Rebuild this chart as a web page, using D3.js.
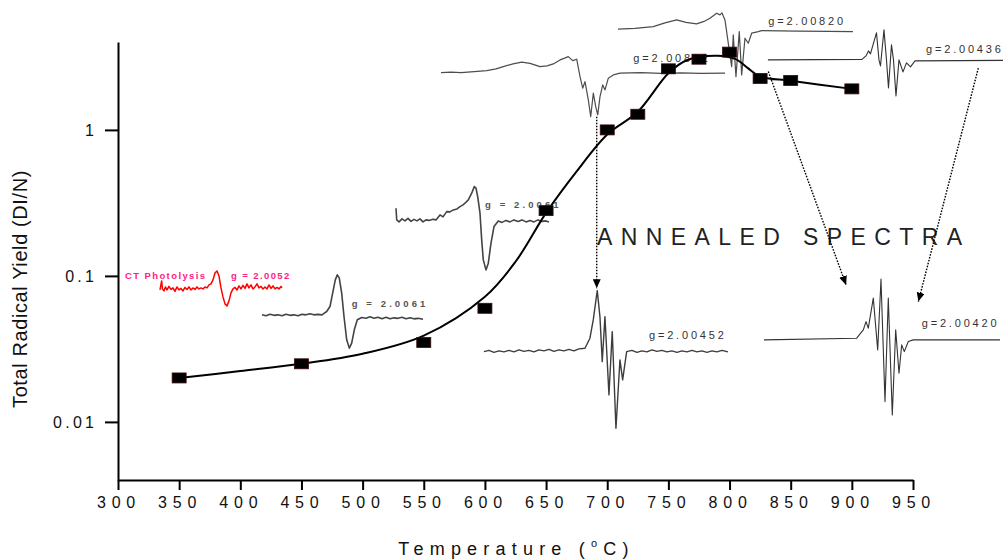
<!DOCTYPE html>
<html>
<head>
<meta charset="utf-8">
<script src="https://cdn.jsdelivr.net/npm/d3@7"></script>
<style>
body { margin: 0; background: #fff; }
svg { display: block; font-family: "Liberation Sans", Arial, sans-serif; }
</style>
</head>
<body>
<svg id="chart" width="1003" height="560"></svg>
<script>
// measured radical yields (squares)
const pointTemps = [350, 450, 550, 600, 650, 700, 725, 750, 775, 800, 825, 850, 900];
const pointYields = [0.020, 0.025, 0.035, 0.060, 0.28, 1.0, 1.28, 2.62, 3.05, 3.41, 2.25, 2.18, 1.91];

// smooth fitted curve
const curveTemps = [350, 400, 450, 500, 550, 600, 625, 650, 675, 700, 725, 750, 765, 790, 805, 815, 825, 850, 900];
const curveYields = [0.020, 0.0223, 0.025, 0.0293, 0.039, 0.072, 0.125, 0.27, 0.52, 0.93, 1.33, 2.44, 3.0, 3.22, 3.05, 2.65, 2.32, 2.17, 1.91];

const xTickValues = [300, 350, 400, 450, 500, 550, 600, 650, 700, 750, 800, 850, 900, 950];
const xMinorValues = [325, 375, 425, 475, 525, 575, 625, 675, 725, 775, 825, 875, 925];
const yTickValues = [0.01, 0.1, 1];
const yTickLabels = ["0.01", "0.1", "1"];

// EPR spectra insets: [field, signal] in arbitrary units
const specCT = [[0,20],[1.7,29],[2.5,21],[4,19],[5.5,23],[7,20],[9,23.5],[11,20.5],[13,22],[15,18.5],[17,23],[19,20],[21,21.5],[23,19],[25,22.5],[27,20.5],[29,23],[31,20],[33,22],[35,20.5],[37,23],[39,21],[41,22],[43,21],[45,23],[47,22],[49,25],[51,26],[53,30],[55,37],[57,39],[59,34],[61,22],[63,13],[65,6],[67,4],[69,9],[71,17],[73,21],[75,22.5],[77,20],[79,24],[81,21],[83,24.5],[85,21.5],[87,26],[89,22],[91,25],[93,21],[95,23],[97,26],[99,22],[101,23.5],[103,21],[105,23],[107,21],[109,25],[111,21.5],[113,24],[115,21],[117,22.5],[119,21],[121,23.5],[122,22]];
const spec450 = [[0,37],[4,36],[8,37.5],[12,36.5],[16,37],[20,36],[24,37.5],[28,36.5],[32,37],[36,36],[40,37.5],[44,37],[48,38],[52,37],[56,37.5],[60,37],[62,38.5],[64.7,40.3],[68,45.3],[71.3,62],[73.3,72],[75.3,77],[77.3,73.7],[79.7,58.7],[82,35.3],[84.7,12],[87.3,3.7],[89.7,8.7],[92.3,22],[95.3,32],[99.7,34.3],[104,33.5],[108,35],[112,33.5],[116,34.5],[120,33],[124,34.5],[128,33],[132,34],[136,33.5],[140,34.5],[144,33],[148,34],[152,33],[156,33.5],[161,32.5]];
const spec600 = [[0,66.7],[0.7,55],[3,53],[6,56],[9,54],[12,56.5],[15,53.5],[18,55.5],[21,54],[24,56],[27,53],[30,55],[33,54.5],[37,55.7],[40,55],[44,60],[47,58],[50.7,63.3],[54,63],[57.3,65],[61,66],[64,68.3],[67,70],[69,71.7],[72.3,75],[75.7,81.7],[78.3,88.3],[80,86.7],[81.7,78.3],[84,61.7],[85.7,35],[87.3,15],[90,5],[92.3,11.7],[95,31.7],[98,48.3],[102.3,54],[106,52.5],[110,54.5],[114,53],[118,55],[122,53.5],[126,55],[130,53],[134,54.5],[138,53],[142,55],[146,53.5],[150,54],[153,53]];
const spec700top = [[0,47.3],[10,47.8],[20,47.2],[30,48],[45.7,49.3],[55,51],[62.3,53.3],[72,56],[80.7,57.7],[89,56.5],[99,53.3],[106,54],[112.3,56],[119,60],[123,61.5],[127.3,63.3],[131.7,59.3],[135.7,60.7],[139,43.3],[141.7,31.7],[144,38.3],[147.3,20],[149.7,3.3],[152.3,26.7],[154.7,13.3],[156.7,5],[159,23.3],[161.7,35],[164,30],[167.3,41.7],[172.3,45],[179,46.7],[200,47.2],[220,46.5],[240,47],[260,46.5],[284,46.7]];
const spec800top = [[0,50.7],[17,51.5],[35.3,53.3],[47,57],[58.7,60],[68,57.5],[78.7,56],[86,58.5],[92,61.7],[98.7,66.7],[102,65],[104,67],[107,60],[110.3,36.7],[113.7,13.3],[115.3,45],[118,3.3],[121.3,48.3],[123.7,5],[127,41.7],[130.3,36.7],[133.7,46.7],[140.3,48.3],[143.7,49.3],[180,48.8],[210,48.5],[235,48.3]];
const spec850top = [[0,40],[94,40.5],[98,44],[100.5,49],[102.5,46],[105,55],[108.5,67],[111,40],[112.5,34],[116,70],[118.5,40],[120.5,12],[123.5,55],[125.5,40],[128,4],[131,40],[135,28],[138.5,37],[142.5,33],[147,39],[235,39.5]];
const spec700ann = [[0,80.3],[5,81.5],[10,79.5],[15,81],[20,80],[25,81.5],[30,80],[35,82],[40,80.5],[45,81.5],[50,80],[55,82],[60,81],[65,82.5],[70,80.5],[75,82],[80,81],[85,82.5],[90,81],[95,83],[101,83.7],[106,93.7],[109.3,112],[113.3,141.3],[116,115.3],[118.3,70.3],[121,115.3],[125,37],[128.3,100.3],[132,3.7],[136,72],[138.7,52],[142.7,80.3],[148,81.5],[153,79.5],[158,81],[163,80],[168,82],[173,80.5],[178,81.5],[183,80],[188,81],[193,79.5],[198,81],[203,80],[208,81.5],[213,80],[218,81],[223,79.5],[228,81],[233,80],[238,81.5],[244,80]];
const spec850ann = [[0,80],[92.7,81.7],[99.3,90],[102,98.3],[104.3,91.7],[109.3,121.7],[113.7,70],[117,140.7],[121,18.3],[124.3,121.7],[128.3,5],[131.7,90],[135,46.7],[137.7,75],[140.3,68.3],[144.3,78.3],[149.3,80],[236,80]];

const spectra = [specCT, spec450, spec600, spec700top, spec800top, spec850top, spec700ann, spec850ann];
// where each inset sits, in chart units (temperature, yield)
const frameT0 = [334.3, 417.7, 527.3, 564.1, 708.8, 831.4, 599.2, 828.2];
const frameT1 = [434.1, 549.4, 653.2, 796.3, 900.9, 1023.6, 798.7, 1021.1];
const frameLo = [0.0585, 0.0302, 0.1016, 1.171, 2.200, 1.606, 0.00854, 0.01032];
const frameHi = [0.1189, 0.1100, 0.4545, 3.531, 6.848, 5.239, 0.0868, 0.1100];
const frameW = [122, 161, 154, 284, 235, 235, 244, 236];
const frameH = [45, 82, 95, 70, 72, 75, 147, 150];

const labelTexts = ["CT Photolysis", "g = 2.0052", "g = 2.0061", "g = 2.0061", "g=2.00812", "g=2.00820", "g=2.00436", "g=2.00452", "g=2.00420", "ANNEALED SPECTRA"];
const labelTemps = [305.7, 392.4, 491.1, 600.1, 721.3, 831.7, 960.7, 734.2, 957.2, 691.7];
const labelYields = [0.0954, 0.0954, 0.0610, 0.2936, 2.909, 5.238, 3.384, 0.03684, 0.04452, 0.163];

const arrowFromT = [691.4, 831.7, 1003.4];
const arrowFromY = [1.23, 2.51, 2.65];
const arrowToT = [691.4, 895.3, 954.4];
const arrowToY = [0.0824, 0.0867, 0.0667];

const svg = d3.select("#chart");
const x = d3.scaleLinear().domain([300, 950]).range([118, 913]);
const y = d3.scaleLog().domain([0.004, 4]).range([480, 42]);

// spectra
const specColors = ["#ff0000", "#444", "#444", "#4d4d4d", "#4d4d4d", "#333", "#3d3d3d", "#333"];
const specWidths = [1.5, 1.6, 1.6, 1.2, 1.2, 1.1, 1.4, 1.1];
spectra.forEach((pts, i) => {
    const sx = d3.scaleLinear().domain([0, frameW[i]]).range([x(frameT0[i]), x(frameT1[i])]);
    const sy = d3.scaleLinear().domain([0, frameH[i]]).range([y(frameLo[i]), y(frameHi[i])]);
    svg.append("path")
        .attr("d", d3.line().x(d => sx(d[0])).y(d => sy(d[1]))(pts))
        .attr("fill", "none")
        .attr("stroke", specColors[i])
        .attr("stroke-width", specWidths[i])
        .attr("stroke-linejoin", "round");
});

// labels
const labelStyle = i => {
    if (i < 2) return {size: 9.5, weight: "bold", ls: 1.4, color: "#ff2288"};
    if (i < 4) return {size: 9.5, weight: "bold", ls: 3.1, color: "#555"};
    if (i < 9) return {size: 11, weight: "normal", ls: 2.8, color: "#333"};
    return {size: 23, weight: "normal", ls: 8.4, color: "#222"};
};
labelTexts.forEach((t, i) => {
    const s = labelStyle(i);
    svg.append("text")
        .attr("x", x(labelTemps[i]))
        .attr("y", y(labelYields[i]))
        .attr("font-size", s.size)
        .attr("font-weight", s.weight)
        .attr("letter-spacing", s.ls)
        .attr("fill", s.color)
        .text(t);
});

// dotted arrows
svg.append("defs").append("marker")
    .attr("id", "head")
    .attr("markerUnits", "userSpaceOnUse")
    .attr("markerWidth", 9).attr("markerHeight", 8)
    .attr("refX", 9).attr("refY", 4)
    .attr("orient", "auto")
    .append("path").attr("d", "M0,0L9,4L0,8Z").attr("fill", "#000");

arrowFromT.forEach((t, i) => {
    svg.append("line")
        .attr("x1", x(t)).attr("y1", y(arrowFromY[i]))
        .attr("x2", x(arrowToT[i])).attr("y2", y(arrowToY[i]))
        .attr("stroke", "#000")
        .attr("stroke-width", 1.4)
        .attr("stroke-dasharray", "1.6,1.4")
        .attr("marker-end", "url(#head)");
});

// fitted curve
const curvePts = curveTemps.map((t, i) => [t, curveYields[i]]);
svg.append("path")
    .attr("d", d3.line().x(d => x(d[0])).y(d => y(d[1])).curve(d3.curveCatmullRom.alpha(0.5))(curvePts))
    .attr("fill", "none")
    .attr("stroke", "#000")
    .attr("stroke-width", 2);

// squares
svg.append("g").selectAll("rect")
    .data(pointTemps.map((t, i) => [t, pointYields[i]]))
    .enter().append("rect")
    .attr("x", d => x(d[0]) - 7)
    .attr("y", d => y(d[1]) - 5)
    .attr("width", 14)
    .attr("height", 10)
    .attr("fill", "#000")
    .attr("stroke", "#3a0a0a")
    .attr("stroke-width", 0.8);

// axes
const xAxisG = svg.append("g").attr("transform", "translate(0,480)");
xAxisG.call(d3.axisBottom(x).tickValues(xMinorValues).tickSize(6).tickSizeOuter(0).tickFormat(""));
xAxisG.call(d3.axisBottom(x).tickValues(xTickValues).tickSize(10).tickSizeOuter(0).tickFormat(d3.format("d")));
xAxisG.selectAll("text")
    .attr("y", 28).attr("dy", null)
    .attr("dx", 0.5)
    .attr("font-size", 16)
    .attr("letter-spacing", 5.8)
    .attr("font-family", "Liberation Sans, Arial, sans-serif")
    .attr("fill", "#111");

const minorY = y.ticks().filter(v => !yTickValues.some(m => Math.abs(m - v) < 1e-9));
const yAxisG = svg.append("g").attr("transform", "translate(118,0)");
yAxisG.call(d3.axisLeft(y).tickValues(minorY).tickSize(8).tickSizeOuter(0).tickFormat(""));
yAxisG.call(d3.axisLeft(y).tickValues(yTickValues).tickSize(13).tickSizeOuter(0).tickFormat((d, i) => yTickLabels[i]));
yAxisG.selectAll("text")
    .attr("x", -20.7)
    .attr("font-size", 16)
    .attr("letter-spacing", 3.3)
    .attr("font-family", "Liberation Sans, Arial, sans-serif")
    .attr("fill", "#111");

svg.selectAll(".domain, .tick line").attr("stroke", "#000").attr("stroke-width", 2);

// axis titles
const xt = svg.append("text")
    .attr("x", 516.5)
    .attr("y", 555)
    .attr("text-anchor", "middle")
    .attr("font-size", 18)
    .attr("letter-spacing", 6.2)
    .attr("fill", "#111");
xt.append("tspan").text("Temperature (");
xt.append("tspan").attr("font-size", 11).attr("dy", -8).text("o");
xt.append("tspan").attr("dy", 8).text("C)");

svg.append("text")
    .attr("transform", "translate(27,289) rotate(-90)")
    .attr("text-anchor", "middle")
    .attr("font-size", 20)
    .attr("letter-spacing", 0.6)
    .attr("fill", "#111")
    .text("Total Radical Yield (DI/N)");
</script>
</body>
</html>
